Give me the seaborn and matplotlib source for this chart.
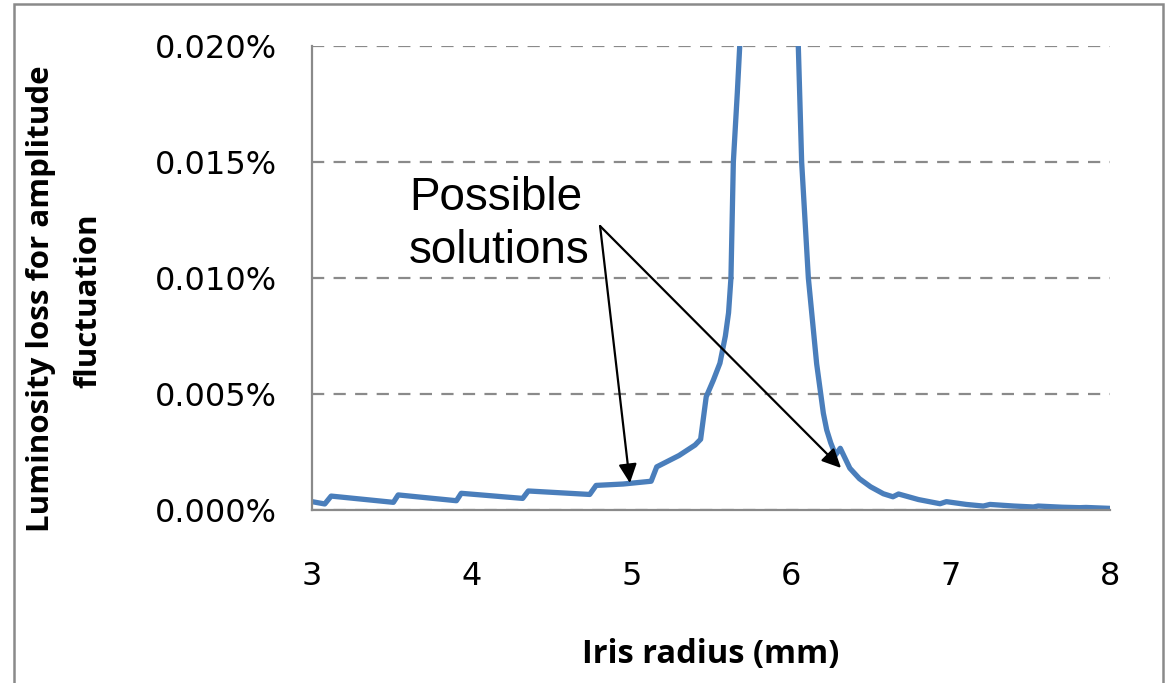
import numpy as np
import pandas as pd
import matplotlib
matplotlib.use("Agg")
import matplotlib.pyplot as plt
from matplotlib.patches import Rectangle
from matplotlib.ticker import FuncFormatter
import seaborn as sns

# Iris radius (mm)
iris_radius = [3.00, 3.08, 3.12, 3.51, 3.54, 3.905, 3.935, 4.32, 4.355, 4.74, 4.78,
               4.95, 5.125, 5.16, 5.30, 5.40, 5.435, 5.47, 5.515, 5.556, 5.59, 5.61,
               5.625, 5.64, 5.665, 5.68, 5.70, 5.87, 6.04, 6.047, 6.068, 6.11, 6.162,
               6.204, 6.225, 6.25, 6.28, 6.31, 6.37, 6.43, 6.50, 6.58, 6.64, 6.675,
               6.80, 6.935, 6.975, 7.10, 7.206, 7.248, 7.40, 7.52, 7.55, 7.70, 7.81,
               7.85, 8.00]
# Luminosity loss for amplitude fluctuation (%)
lumi_loss = [0.00036, 0.00026, 0.00060, 0.00033, 0.00065, 0.00040, 0.00072, 0.00050,
             0.00082, 0.00067, 0.00106, 0.00112, 0.00124, 0.00186, 0.00235, 0.00280,
             0.00305, 0.00488, 0.00560, 0.00633, 0.00750, 0.00850, 0.01000, 0.01500,
             0.01800, 0.02000, 0.02400, 0.04000, 0.02400, 0.02000, 0.01500, 0.01000,
             0.00630, 0.00417, 0.00345, 0.00290, 0.00237, 0.00266, 0.00180, 0.00135,
             0.00100, 0.00070, 0.00057, 0.00069, 0.00045, 0.00027, 0.00036, 0.00024,
             0.00017, 0.00024, 0.00017, 0.00013, 0.00017, 0.00012, 0.00010, 0.00011,
             0.00007]

x_ticks = [3, 4, 5, 6, 7, 8]
y_ticks = [0.000, 0.005, 0.010, 0.015, 0.020]

y_label_lines = ["Luminosity loss for amplitude", "fluctuation"]
x_label = "Iris radius (mm)"
annot_text = ["Possible", "solutions"]
arrow_tail = (4.805, 0.01224)
arrow_tips = [(4.992, 0.00116), (6.315, 0.00181)]

df = pd.DataFrame({"x": iris_radius, "y": lumi_loss})

sns.set_style("white")
plt.rcParams["text.color"] = "black"
W, H = 1165, 683
fig = plt.figure(figsize=(W / 100, H / 100), dpi=100)
ax = fig.add_axes([312 / W, 1 - 510 / H, (1110 - 312) / W, (510 - 46) / H])

gray = "#8a8a8a"
blue = "#4a7ebb"

sns.lineplot(data=df, x="x", y="y", ax=ax, color=blue, linewidth=3.8,
             estimator=None, sort=False, solid_capstyle="butt", solid_joinstyle="round")

ax.set_xlim(3, 8)
ax.set_ylim(0, 0.020)
ax.set_xticks(x_ticks)
ax.set_yticks(y_ticks)
ax.yaxis.set_major_formatter(FuncFormatter(lambda v, p: f"{v:.3f}%"))
ax.xaxis.set_major_formatter(FuncFormatter(lambda v, p: f"{v:g}"))

for s in ["top", "right"]:
    ax.spines[s].set_visible(False)
for s in ["left", "bottom"]:
    ax.spines[s].set_color(gray)
    ax.spines[s].set_linewidth(1.6)

ax.yaxis.grid(True, color=gray, linewidth=1.6, linestyle=(0, (5.5, 4.2)))
ax.xaxis.grid(False)
ax.set_axisbelow(True)

ax.tick_params(axis="both", which="major", direction="out", length=7.5, width=1.6,
               color=gray, labelcolor="black", labelsize=23)
ax.tick_params(axis="y", pad=18)
ax.tick_params(axis="x", pad=29)
for lab in ax.get_xticklabels() + ax.get_yticklabels():
    lab.set_fontfamily("DejaVu Sans")

ax.set_xlabel("")
ax.set_ylabel("")
fig.text(711 / W, 1 - 655 / H, x_label, ha="center", va="center",
         fontsize=23.5, fontweight="bold", family="Open Sans", color="black")
fig.text(41 / W, 1 - 299 / H, y_label_lines[0], ha="center", va="center",
         rotation=90, fontsize=22.5, fontweight="bold", family="Open Sans", color="black")
fig.text(88 / W, 1 - 301 / H, y_label_lines[1], ha="center", va="center",
         rotation=90, fontsize=22.5, fontweight="bold", family="Open Sans", color="black")

ax.text(3.608, (510 - 210) / 23.2 * 0.001, annot_text[0], fontsize=33,
        family="Liberation Sans", va="baseline", ha="left", color="black")
ax.text(3.608, (510 - 263) / 23.2 * 0.001, annot_text[1], fontsize=33,
        family="Liberation Sans", va="baseline", ha="left", color="black")
for tip in arrow_tips:
    ax.annotate("", xy=tip, xytext=arrow_tail,
                arrowprops=dict(arrowstyle="-|>,head_length=1.15,head_width=0.55",
                                color="black", lw=1.6, shrinkA=0, shrinkB=0))

fig.patches.append(Rectangle((14 / W, -0.02), (1163 - 14) / W, 1 - 4 / H + 0.02,
                             transform=fig.transFigure, fill=False,
                             edgecolor=gray, linewidth=1.8))

fig.savefig("out.png", dpi=100)
